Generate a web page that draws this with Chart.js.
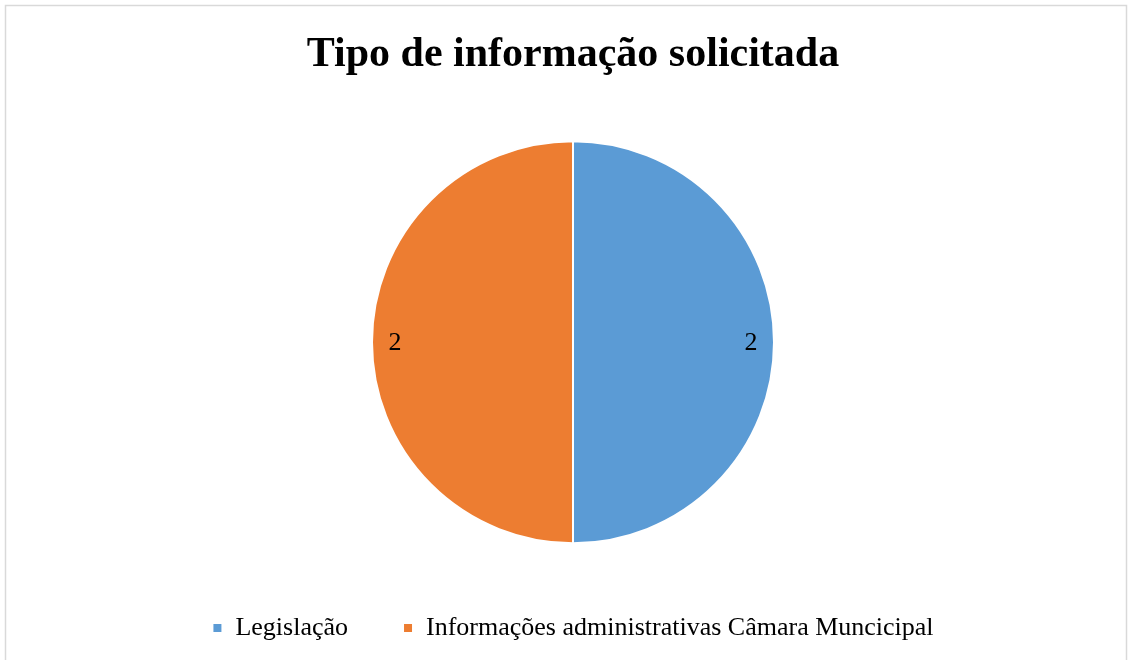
<!DOCTYPE html>
<html>
<head>
<meta charset="utf-8">
<script src="https://cdn.jsdelivr.net/npm/chart.js@4/dist/chart.umd.min.js"></script>
<style>
  html, body { margin: 0; padding: 0; background: #ffffff; }
  #wrap { width: 1132px; height: 660px; position: relative; }
</style>
</head>
<body>
<div id="wrap"><canvas id="c" width="1132" height="660"></canvas></div>
<script>
const chartTitle = "Tipo de informação solicitada";
const categories = ["Legislação", "Informações administrativas Câmara Muncicipal"];
const values = [2, 2];
const colors = ["#5B9BD5", "#ED7D31"];

const frame = {
  id: 'frame',
  beforeDraw(chart) {
    const ctx = chart.ctx;
    ctx.save();
    ctx.fillStyle = '#ffffff';
    ctx.fillRect(0, 0, chart.width, chart.height);
    ctx.strokeStyle = '#d9d9d9';
    ctx.lineWidth = 1.5;
    ctx.strokeRect(5.5, 5.5, chart.width - 11, chart.height + 20);
    ctx.restore();
  }
};

const sliceLabels = {
  id: 'sliceLabels',
  afterDatasetsDraw(chart) {
    const ctx = chart.ctx;
    const meta = chart.getDatasetMeta(0);
    ctx.save();
    ctx.font = '26px "Liberation Serif", "Times New Roman", serif';
    ctx.fillStyle = '#000000';
    ctx.textAlign = 'center';
    ctx.textBaseline = 'middle';
    meta.data.forEach((arc, i) => {
      const p = arc.getProps(['x', 'y', 'startAngle', 'endAngle', 'outerRadius'], true);
      const mid = (p.startAngle + p.endAngle) / 2;
      const r = p.outerRadius - 23;
      ctx.fillText(String(chart.data.datasets[0].data[i]), p.x + Math.cos(mid) * r, p.y + Math.sin(mid) * r + 1);
    });
    ctx.restore();
  }
};

new Chart(document.getElementById('c'), {
  type: 'pie',
  data: {
    labels: categories,
    datasets: [{
      data: values,
      backgroundColor: colors,
      borderColor: '#ffffff',
      borderWidth: 2,
      hoverOffset: 0,
      radius: 201
    }]
  },
  options: {
    responsive: false,
    animation: false,
    layout: { padding: { left: 14, right: 0, top: 0, bottom: 9 } },
    plugins: {
      title: {
        display: true,
        text: chartTitle,
        color: '#000000',
        font: { family: '"Liberation Serif", "Times New Roman", serif', size: 42, weight: 'bold', lineHeight: 1.2 },
        padding: { top: 30, bottom: 44 }
      },
      legend: {
        display: true,
        position: 'bottom',
        labels: {
          color: '#000000',
          font: { family: '"Liberation Serif", "Times New Roman", serif', size: 26 },
          boxWidth: 10,
          boxHeight: 10,
          padding: 55
        }
      },
      tooltip: { enabled: false }
    }
  },
  plugins: [frame, sliceLabels]
});
</script>
</body>
</html>
